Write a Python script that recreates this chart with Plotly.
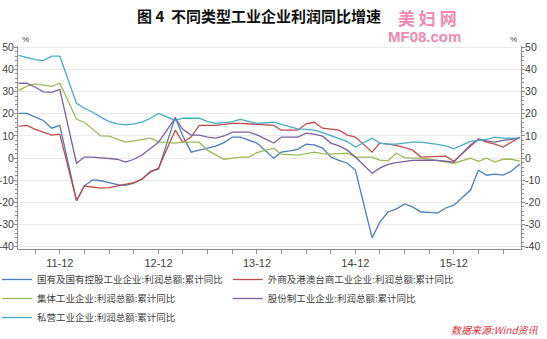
import plotly.graph_objects as go
import pandas as pd

# Monthly dates (January omitted: Jan-Feb reported together)
months = [d for d in pd.date_range("2011-07-01", "2016-08-01", freq="MS") if d.month != 1]

soe = [20.2, 20.2, 18.5, 17.0, 13.5, 14.8,
       -19.2, -12.5, -9.8, -10.2, -11.0, -12.0, -12.3, -11.3, -9.3, -6.0, -5.0,
       18.5, 10.0, 2.7, 3.6, 4.5, 5.4, 7.0, 9.5, 9.5, 8.0, 6.8,
       0.0, 2.7, 3.3, 4.0, 6.3, 6.0, 4.5, 0.5, -1.0, -2.3, -5.4,
       -36.0, -29.0, -24.3, -23.0, -20.7, -22.0, -24.3, -24.5, -24.8, -22.5, -21.2,
       -14.4, -5.4, -7.7, -7.2, -7.7, -5.9, -2.7]
foreign = [14.4, 14.8, 13.0, 11.8, 10.4, 10.8,
           -19.2, -12.6, -13.0, -13.5, -13.3, -12.5, -12.0, -11.0, -9.5, -6.3, -4.5,
           12.6, 7.2, 9.5, 14.8, 14.8, 14.8, 15.2, 15.7, 15.7, 15.5, 15.5,
           14.8, 12.6, 12.6, 12.6, 15.5, 16.2, 13.5, 13.0, 12.6, 10.4, 9.5,
           2.7, 6.8, 6.3, 5.8, 4.8, 3.6, 0.5, 0.7, 0.9, 0.9, -1.4,
           5.5, 8.6, 7.2, 6.3, 5.0, 7.2, 9.5]
collective = [30.6, 32.5, 33.5, 33.0, 32.4, 33.8,
              17.5, 16.2, 13.0, 10.0, 9.9, 8.5, 7.2, 7.8, 8.3, 9.0, 7.3,
              6.8, 7.2, 7.2, 7.2, 3.5, 1.4, -0.5, 0.0, 0.5, 0.5, 2.5,
              4.5, 1.8, 1.6, 1.4, 2.0, 2.7, 2.0, 1.8, 2.0, 2.2, 0.5,
              0.5, -0.9, -1.2, 2.2, 0.2, 0.0, 0.0, -0.5, -1.0, -1.5, -2.3,
              0.0, -1.4, 0.0, -1.8, -0.5, -0.5, -1.4]
shareholding = [33.8, 33.8, 32.0, 29.9, 29.7, 31.0,
                -2.3, 0.5, 0.5, 0.2, 0.0, -0.5, -1.8, -0.5, 1.4, 4.3, 7.2,
                18.0, 13.0, 10.4, 10.4, 9.5, 9.0, 10.0, 11.7, 11.7, 11.7, 10.5,
                6.8, 9.5, 9.5, 9.5, 11.3, 10.8, 9.9, 6.8, 5.5, 3.6, 0.5,
                -6.8, -4.5, -2.8, -2.0, -1.4, -1.0, -0.9, -0.9, -1.0, -1.4, -1.8,
                6.0, 8.6, 7.8, 7.2, 8.0, 8.5, 9.0]
private = [46.4, 45.5, 44.5, 44.0, 46.0, 46.0,
           24.7, 22.5, 20.7, 18.5, 16.5, 15.5, 15.0, 15.5, 16.3, 18.0, 20.2,
           17.0, 18.0, 18.0, 18.0, 16.5, 15.7, 16.0, 16.5, 17.5, 16.5, 15.7,
           16.2, 15.2, 14.4, 13.2, 13.0, 12.6, 11.5, 10.2, 9.0, 7.5, 5.0,
           9.0, 6.8, 6.3, 6.3, 6.8, 7.2, 7.2, 6.8, 6.2, 5.5, 4.2,
           7.6, 8.0, 8.5, 9.5, 9.0, 9.0, 9.0]

names = ["国有及国有控股工业企业:利润总额:累计同比", "外商及港澳台商工业企业:利润总额:累计同比",
         "集体工业企业:利润总额:累计同比", "股份制工业企业:利润总额:累计同比",
         "私营工业企业:利润总额:累计同比"]
series = [soe, foreign, collective, shareholding, private]
colors = ["#4A7EBB", "#BE4B48", "#98B954", "#7D60A0", "#46AAC5"]

x_tick_dates = [d for d in pd.date_range("2011-09-01", "2016-06-01", freq="3MS")]
x_tick_text = [f"{d.year % 100:02d}-12" if d.month == 12 else "" for d in x_tick_dates]
y_tick_vals = [50, 40, 30, 20, 10, 0, -10, -20, -30, -40]
y_tick_text = [str(v) for v in y_tick_vals]   # plain hyphen minus (narrow)

fig = go.Figure()
for nm, ys, c in zip(names, series, colors):
    fig.add_trace(go.Scatter(x=months, y=ys, name=nm, mode="lines",
                             line=dict(color=c, width=1.3)))

axis_col = "#8C8C8C"
tick_font = dict(family="Liberation Sans, Arial", size=10.5, color="#404040")
yrange = [-41, 50.6]
PW, PH = 503, 203

yaxis_common = dict(range=yrange, tickmode="array", tickvals=y_tick_vals, ticktext=y_tick_text,
                    ticks="outside", ticklen=3, ticklabelstandoff=-2,
                    automargin=False, tickcolor=axis_col, showline=True, linecolor=axis_col,
                    zeroline=False, tickfont=tick_font,
                    minor=dict(tickmode="linear", dtick=2, tick0=0, ticks="outside", ticklen=2,
                               tickcolor=axis_col, showgrid=False))

fig.update_layout(
    width=547, height=339,
    margin=dict(l=18, r=26, t=46, b=90, autoexpand=False),
    paper_bgcolor="white", plot_bgcolor="white",
    showlegend=True,
    legend=dict(orientation="h", x=(-3 - 18) / PW, xanchor="left",
                y=-(265 - 249) / PH, yanchor="top", itemwidth=30,
                font=dict(family="Noto Sans CJK SC", size=9.5, color="#404040"),
                tracegroupgap=0, bgcolor="rgba(0,0,0,0)", borderwidth=0),
    xaxis=dict(type="date", range=["2011-06-29", "2016-08-06"], automargin=False,
               tickmode="array", tickvals=x_tick_dates, ticktext=x_tick_text,
               ticks="outside", ticklen=4, tickcolor=axis_col,
               showline=True, linecolor=axis_col, linewidth=1,
               showgrid=False, zeroline=False, tickfont=dict(tick_font, size=11)),
    yaxis=dict(yaxis_common, showgrid=True, gridcolor="#EBEBEB"),
    yaxis2=dict(yaxis_common, overlaying="y", side="right", showgrid=False),
)
# invisible trace to activate right axis
fig.add_trace(go.Scatter(x=[months[0]], y=[0], yaxis="y2", showlegend=False,
                         mode="markers", marker=dict(opacity=0), hoverinfo="skip"))

fig.add_annotation(text="<b>图 4  不同类型工业企业利润同比增速</b>", xref="paper", yref="paper",
                   x=(259 - 18) / PW, y=1 + (46 - 15) / PH, xanchor="center", yanchor="middle",
                   showarrow=False,
                   font=dict(family="Noto Sans CJK SC", size=15, color="#111111"))
fig.add_annotation(text="%", xref="paper", yref="paper", x=(20 - 18) / PW, y=1.0,
                   xanchor="left", yanchor="bottom", showarrow=False,
                   font=dict(family="Liberation Sans", size=8, color="#404040"))
fig.add_annotation(text="%", xref="paper", yref="paper", x=(519 - 18) / PW, y=1.0,
                   xanchor="right", yanchor="bottom", showarrow=False,
                   font=dict(family="Liberation Sans", size=8, color="#404040"))
fig.add_annotation(text="<i>数据来源:Wind资讯</i>", xref="paper", yref="paper",
                   x=(541 - 18) / PW, y=-(329 - 249) / PH, xanchor="right", yanchor="middle",
                   showarrow=False,
                   font=dict(family="Noto Sans CJK SC", size=10, color="#E0303A"))
# watermark
fig.add_annotation(text="<b>美 妇 网</b>", xref="paper", yref="paper",
                   x=(427 - 18) / PW, y=1 + (46 - 18) / PH, xanchor="center", yanchor="middle",
                   showarrow=False,
                   font=dict(family="Noto Sans CJK SC", size=17, color="#EE8AB2"))
fig.add_annotation(text="<b>MF08.com</b>", xref="paper", yref="paper",
                   x=(424 - 18) / PW, y=1 + (46 - 36) / PH, xanchor="center", yanchor="middle",
                   showarrow=False,
                   font=dict(family="Liberation Sans", size=15, color="#EE8AB2"))

fig.write_html("out.html")
